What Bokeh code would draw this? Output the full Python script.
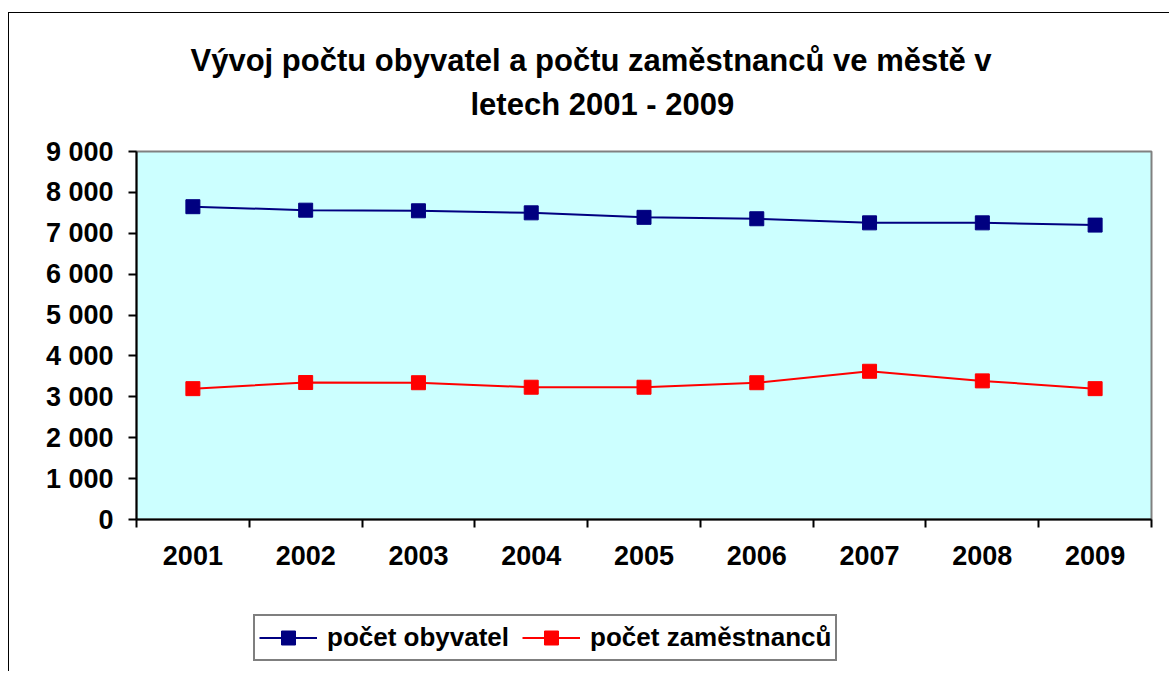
from bokeh.plotting import figure
from bokeh.models import FixedTicker, Legend, LegendItem, Title, Range1d
from bokeh.layouts import column
from bokeh.embed import file_html
from bokeh.resources import INLINE

years = ["2001", "2002", "2003", "2004", "2005", "2006", "2007", "2008", "2009"]
obyvatel = [7650, 7565, 7550, 7500, 7390, 7355, 7255, 7255, 7200]
zamestnancu = [3200, 3350, 3345, 3235, 3235, 3345, 3625, 3390, 3200]
y_ticks = [0, 1000, 2000, 3000, 4000, 5000, 6000, 7000, 8000, 9000]
y_labels = ["0", "1 000", "2 000", "3 000", "4 000", "5 000", "6 000", "7 000", "8 000", "9 000"]
title_lines = ["Vývoj počtu obyvatel a počtu zaměstnanců ve městě v", "letech 2001 - 2009"]
series_names = ["počet obyvatel", "počet zaměstnanců"]
colors = ["#000080", "#FF0000"]

FONT = "Liberation Sans"
x = list(range(1, len(years) + 1))

p = figure(width=1160, height=590, output_backend="svg", toolbar_location=None,
           x_range=Range1d(0.5, len(years) + 0.5), y_range=Range1d(0, 9000),
           min_border_left=127, min_border_right=18, min_border_top=138, min_border_bottom=84,
           title=None)
p.background_fill_color = "#CCFFFF"
p.border_fill_color = "white"
p.outline_line_color = "#808080"
p.outline_line_width = 2
p.xgrid.visible = False
p.ygrid.visible = False

# y axis
ya = p.yaxis[0]
ya.ticker = FixedTicker(ticks=y_ticks)
ya.major_label_overrides = {t: l for t, l in zip(y_ticks, y_labels)}
ya.major_tick_out = 8
ya.major_tick_in = 0
ya.minor_tick_out = 0
ya.minor_tick_in = 0
ya.axis_line_width = 2
ya.axis_line_color = "black"
ya.major_tick_line_width = 2
ya.major_tick_line_color = "black"
ya.major_label_standoff = 15
ya.major_label_text_font = FONT
ya.major_label_text_font_size = "27px"
ya.major_label_text_font_style = "bold"
ya.major_label_text_color = "black"

# x axis
xa = p.xaxis[0]
xa.ticker = FixedTicker(ticks=x, minor_ticks=[i + 0.5 for i in range(len(years) + 1)])
xa.major_label_overrides = {i: y for i, y in zip(x, years)}
xa.major_tick_out = 0
xa.major_tick_in = 0
xa.minor_tick_out = 8
xa.minor_tick_in = 0
xa.minor_tick_line_width = 2
xa.minor_tick_line_color = "black"
xa.axis_line_width = 2
xa.axis_line_color = "black"
xa.major_label_standoff = 18
xa.major_label_text_font = FONT
xa.major_label_text_font_size = "27px"
xa.major_label_text_font_style = "bold"
xa.major_label_text_color = "black"

series = [obyvatel, zamestnancu]
for vals, c in zip(series, colors):
    p.line(x, vals, line_color=c, line_width=2)
    p.scatter(x, vals, marker="square", size=14, fill_color=c, line_color=c)

# title: spacer, then second line, then first line (stacked outward from the plot)
tfont = dict(text_font=FONT, text_font_size="31px", text_font_style="bold", text_color="black")
spacer = Title(text=" ", align="left", offset=0, standoff=-7, **tfont)
t2 = Title(text=title_lines[1], align="left", offset=334, standoff=0, **tfont)
t1 = Title(text=title_lines[0], align="left", offset=54, standoff=14, **tfont)
p.add_layout(spacer, "above")
p.add_layout(t2, "above")
p.add_layout(t1, "above")

# legend strip below the chart
p2 = figure(width=1160, height=68, output_backend="svg", toolbar_location=None,
            x_range=Range1d(0.5, len(years) + 0.5), y_range=Range1d(0, 1),
            x_axis_location=None, y_axis_location=None, min_border=0, title=None)
p2.outline_line_color = None
p2.background_fill_color = "white"
p2.border_fill_color = "white"
p2.xgrid.visible = False
p2.ygrid.visible = False
items = []
for vals, c, name in zip(series, colors, series_names):
    rl = p2.line(x, vals, line_color=c, line_width=2)
    rs = p2.scatter(x, vals, marker="square", size=14, fill_color=c, line_color=c)
    items.append(LegendItem(label=name, renderers=[rl, rs]))

legend = Legend(items=items, orientation="horizontal", location=(117, 10),
                glyph_width=58, glyph_height=35, label_standoff=10, spacing=13, padding=4,
                border_line_color="black", border_line_width=2,
                background_fill_color="white", background_fill_alpha=1,
                label_text_font=FONT, label_text_font_size="26px", label_text_font_style="bold",
                label_text_color="black", margin=0)
p2.add_layout(legend, "center")

layout = column(p, p2, spacing=0)
layout.styles = {"margin-top": "12px", "margin-left": "8px",
                 "border-top": "1px solid black", "border-left": "1px solid black"}

open("out.html", "w").write(file_html(layout, INLINE))
